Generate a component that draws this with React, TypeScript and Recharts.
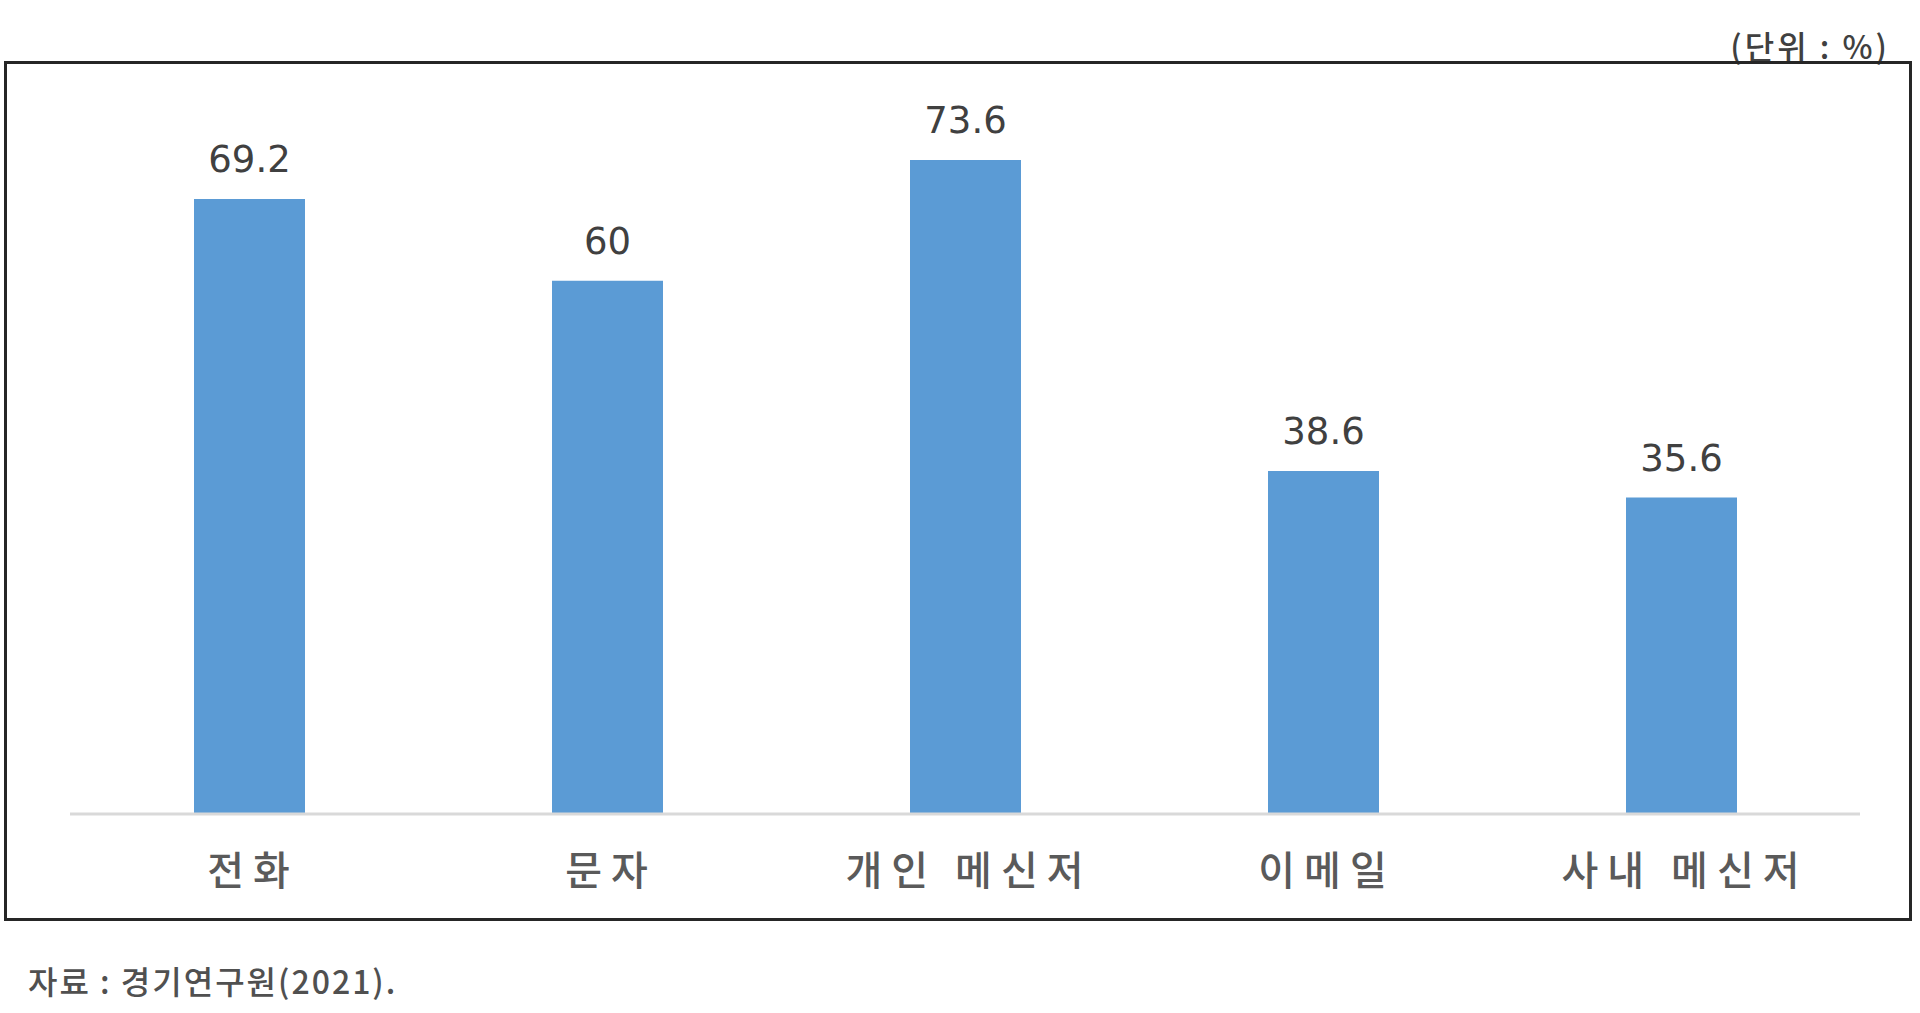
// Bar chart: 업무 연락 수단 이용률 (단위 %). Recharts, single series, value labels on top.

import { Bar, BarChart, LabelList, XAxis, YAxis } from "recharts";

const categories = ["전화", "문자", "개인 메신저", "이메일", "사내 메신저"];
const shares = [69.2, 60, 73.6, 38.6, 35.6];

const unitText = "(단위 : %)";
const sourceText = "자료 : 경기연구원(2021).";

const data = categories.map((name, i) => ({ name, value: shares[i] }));

const KR = "'Noto Sans CJK KR', 'Noto Sans', sans-serif";

function CategoryTick(props: any) {
  const { x, y, payload } = props;
  return (
    <text
      x={x + 4}
      y={y + 57}
      dy="0.35em"
      textAnchor="middle"
      fontFamily={KR}
      fontSize={40}
      fontWeight={500}
      letterSpacing={9}
      fill="#5a5a5a"
    >
      {payload.value}
    </text>
  );
}

export default function App() {
  return (
    <div
      style={{
        position: "absolute",
        left: 0,
        top: 0,
        width: 1920,
        height: 1013,
        background: "#fff",
        overflow: "hidden",
      }}
    >
      <div
        style={{
          position: "absolute",
          right: 1920 - 1890,
          top: 45 - 16,
          fontFamily: KR,
          fontSize: 32,
          fontWeight: 500,
          lineHeight: "32px",
          letterSpacing: 3,
          color: "#404040",
          whiteSpace: "nowrap",
        }}
      >
        {unitText}
      </div>
      <div
        style={{
          position: "absolute",
          left: 4,
          top: 61,
          width: 1908,
          height: 860,
          boxSizing: "border-box",
          border: "3px solid #262626",
        }}
      />
      <div style={{ position: "absolute", left: 0, top: 0 }}>
        <BarChart
          width={1920}
          height={1013}
          data={data}
          margin={{ top: 103, right: 60, left: 70, bottom: 139 }}
        >
          <XAxis
            dataKey="name"
            height={60}
            axisLine={{ stroke: "#d9d9d9", strokeWidth: 3 }}
            tickLine={false}
            tickSize={0}
            tickMargin={0}
            interval={0}
            tick={<CategoryTick />}
          />
          <YAxis hide width={0} domain={[0, 80]} />
          <Bar dataKey="value" fill="#5b9bd5" barSize={111} isAnimationActive={false}>
            <LabelList
              dataKey="value"
              position="top"
              offset={27}
              fontFamily="'DejaVu Sans', sans-serif"
              fontSize={37}
              fill="#404040"
            />
          </Bar>
        </BarChart>
      </div>
      <div
        style={{
          position: "absolute",
          left: 28,
          top: 980 - 16,
          fontFamily: KR,
          fontSize: 32,
          fontWeight: 500,
          lineHeight: "32px",
          letterSpacing: 2,
          color: "#505050",
          whiteSpace: "nowrap",
        }}
      >
        {sourceText}
      </div>
    </div>
  );
}
